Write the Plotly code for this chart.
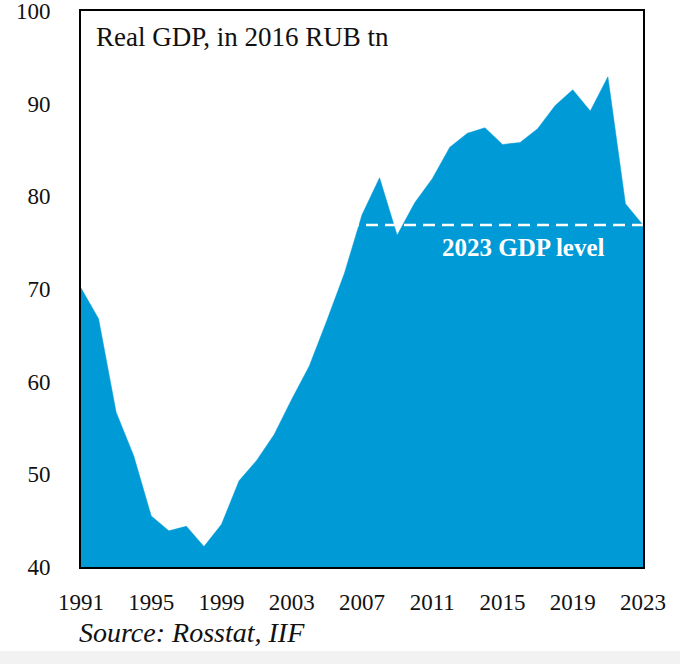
import plotly.graph_objects as go

years = list(range(1991, 2024))
gdp = [70.1, 66.8, 56.7, 52.0, 45.5, 43.9, 44.4, 42.2, 44.6, 49.3,
       51.5, 54.3, 58.1, 61.7, 66.6, 71.7, 78.0, 82.0, 75.8, 79.3,
       81.9, 85.3, 86.8, 87.4, 85.6, 85.8, 87.3, 89.8, 91.5, 89.2,
       92.9, 79.2, 76.9]
level_2023 = gdp[-1]
x_ticks = [1991, 1995, 1999, 2003, 2007, 2011, 2015, 2019, 2023]
y_ticks = [40, 50, 60, 70, 80, 90, 100]

SERIF = "Liberation Serif, Times New Roman, serif"
BLUE = "#009BD6"

W, H = 680, 664
OFF = 0  # body margin removed via post_script
L, R, T, B = 81, 37, 11, 97
PW, PH = W - L - R, H - T - B


def px(page_x):
    return (page_x - OFF - L) / PW


def py(page_y):
    return (H - B - (page_y - OFF)) / PH


fig = go.Figure()
fig.add_trace(go.Scatter(
    x=years, y=gdp, mode="lines", fill="tozeroy",
    fillcolor=BLUE, line=dict(color=BLUE, width=0.5),
    hoverinfo="skip", showlegend=False))
fig.add_trace(go.Scatter(
    x=[years[0], years[-1]], y=[level_2023, level_2023], mode="lines",
    line=dict(color="white", width=2.5, dash="12px,7px"),
    hoverinfo="skip", showlegend=False))

fig.add_annotation(x=2016.2, y=level_2023, yshift=-22, text="<b>2023 GDP level</b>",
                   showarrow=False, font=dict(family=SERIF, size=25, color="white"),
                   xanchor="center", yanchor="middle")
fig.add_annotation(x=px(94), y=py(20), xref="paper", yref="paper",
                   text="Real GDP, in 2016 RUB tn", showarrow=False,
                   font=dict(family=SERIF, size=27, color="#111"),
                   xanchor="left", yanchor="top")
fig.add_annotation(x=px(77), y=py(632), xref="paper", yref="paper",
                   text="<i>Source: Rosstat, IIF</i>",
                   showarrow=False, font=dict(family=SERIF, size=28, color="#111"),
                   xanchor="left", yanchor="middle")

fig.add_shape(type="rect", xref="paper", yref="paper",
              x0=px(0), x1=px(W), y0=py(H), y1=py(651),
              fillcolor="#f2f2f2", line=dict(width=0), layer="below")

fig.update_layout(
    width=W, height=H,
    margin=dict(l=L, r=R, t=T, b=B),
    paper_bgcolor="white", plot_bgcolor="white",
    font=dict(family=SERIF, size=23, color="#111"),
    xaxis=dict(range=[1991, 2023], tickvals=x_ticks, ticktext=[str(v) for v in x_ticks],
               showgrid=False, zeroline=False, showline=True, mirror=True,
               linecolor="black", linewidth=2, ticks="", ticklabelstandoff=13,
               automargin=False, ticklabeloverflow="allow",
               tickfont=dict(family=SERIF, size=23, color="#111")),
    yaxis=dict(range=[40, 100.0001], tickvals=y_ticks, showgrid=False, zeroline=False,
               showline=True, mirror=True, linecolor="black", linewidth=2,
               ticks="", ticklabelstandoff=24, automargin=False,
               ticklabeloverflow="allow",
               tickfont=dict(family=SERIF, size=23, color="#111")),
)

fig.write_html("out.html",
               config={"displayModeBar": False},
               post_script="document.body.style.margin='0';"
                           "document.body.style.overflow='hidden';")
